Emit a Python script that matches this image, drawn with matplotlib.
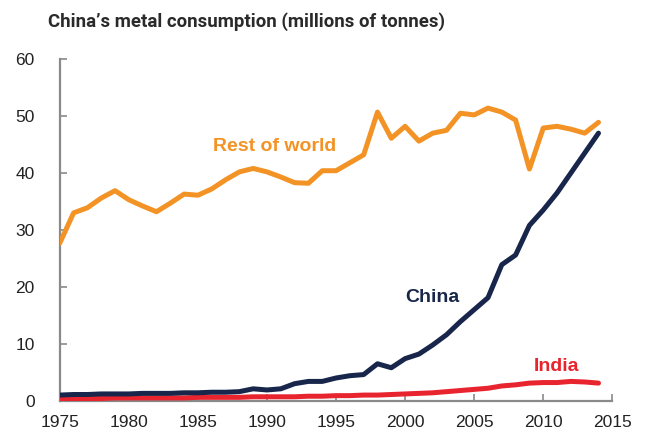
import numpy as np
import matplotlib.pyplot as plt

plt.rcParams['font.family'] = ['Liberation Sans', 'DejaVu Sans']

years = np.arange(1975, 2015)
rest_of_world = [27.7, 33.0, 33.9, 35.6, 36.9, 35.3, 34.2, 33.2, 34.7, 36.3,
                 36.1, 37.2, 38.8, 40.2, 40.8, 40.2, 39.3, 38.3, 38.2, 40.4,
                 40.4, 41.8, 43.2, 50.7, 46.1, 48.2, 45.6, 47.0, 47.5, 50.5,
                 50.2, 51.4, 50.7, 49.3, 40.7, 47.9, 48.2, 47.7, 47.0, 48.9]
china = [1.0, 1.1, 1.1, 1.2, 1.2, 1.2, 1.3, 1.3, 1.3, 1.4,
         1.4, 1.5, 1.5, 1.6, 2.1, 1.9, 2.1, 3.0, 3.4, 3.4,
         4.0, 4.4, 4.6, 6.5, 5.8, 7.4, 8.2, 9.8, 11.6, 13.9,
         16.0, 18.1, 23.9, 25.6, 30.8, 33.5, 36.5, 40.0, 43.5, 47.0]
india = [0.4, 0.4, 0.4, 0.4, 0.5, 0.5, 0.5, 0.5, 0.5, 0.5,
         0.6, 0.6, 0.6, 0.6, 0.7, 0.7, 0.7, 0.7, 0.8, 0.8,
         0.9, 0.9, 1.0, 1.0, 1.1, 1.2, 1.3, 1.4, 1.6, 1.8,
         2.0, 2.2, 2.6, 2.8, 3.1, 3.2, 3.2, 3.4, 3.3, 3.1]

orange = '#F39325'
navy = '#17264A'
red = '#E8252E'

fig = plt.figure(figsize=(6.5, 4.38), dpi=100)
ax = fig.add_axes([0.092, 0.085, 0.85, 0.78])

ax.plot(years, rest_of_world, color=orange, lw=3.6, solid_capstyle='round', zorder=3)
ax.plot(years, india, color=red, lw=3.6, solid_capstyle='round', zorder=3)
ax.plot(years, china, color=navy, lw=3.6, solid_capstyle='round', zorder=4)

ax.set_xlim(1975, 2015)
ax.set_ylim(0, 60)
ax.set_xticks(range(1975, 2016, 5))
ax.set_yticks(range(0, 61, 10))

for s in ['top', 'right']:
    ax.spines[s].set_visible(False)
for s in ['left', 'bottom']:
    ax.spines[s].set_color('#8a8a8a')
    ax.spines[s].set_linewidth(1.6)
ax.tick_params(direction='in', length=5, width=1.2, color='#8a8a8a',
               labelsize=12.5, labelcolor='#222222')
ax.tick_params(axis='x', pad=10)
ax.tick_params(axis='y', pad=18)

ax.text(1986.1, 44.7, 'Rest of world', color=orange, fontsize=14,
        fontweight='bold', va='center')
ax.text(2000.0, 18.1, 'China', color=navy, fontsize=14,
        fontweight='bold', va='center')
ax.text(2009.3, 6.1, 'India', color=red, fontsize=14,
        fontweight='bold', va='center')

title = fig.text(48 / 650, 1 - 22 / 438,
                 "China\u2019s metal consumption (millions of tonnes)",
                 fontsize=13.5, fontweight='bold', color='#2a2a2a', va='center',
                 family=['Roboto', 'DejaVu Sans'])
# squeeze the title to the width it has in the original (~395 px)
fig.canvas.draw()
w = title.get_window_extent().width
title.set_fontsize(13.5 * 395 / w)

fig.savefig('out.png', dpi=100)
